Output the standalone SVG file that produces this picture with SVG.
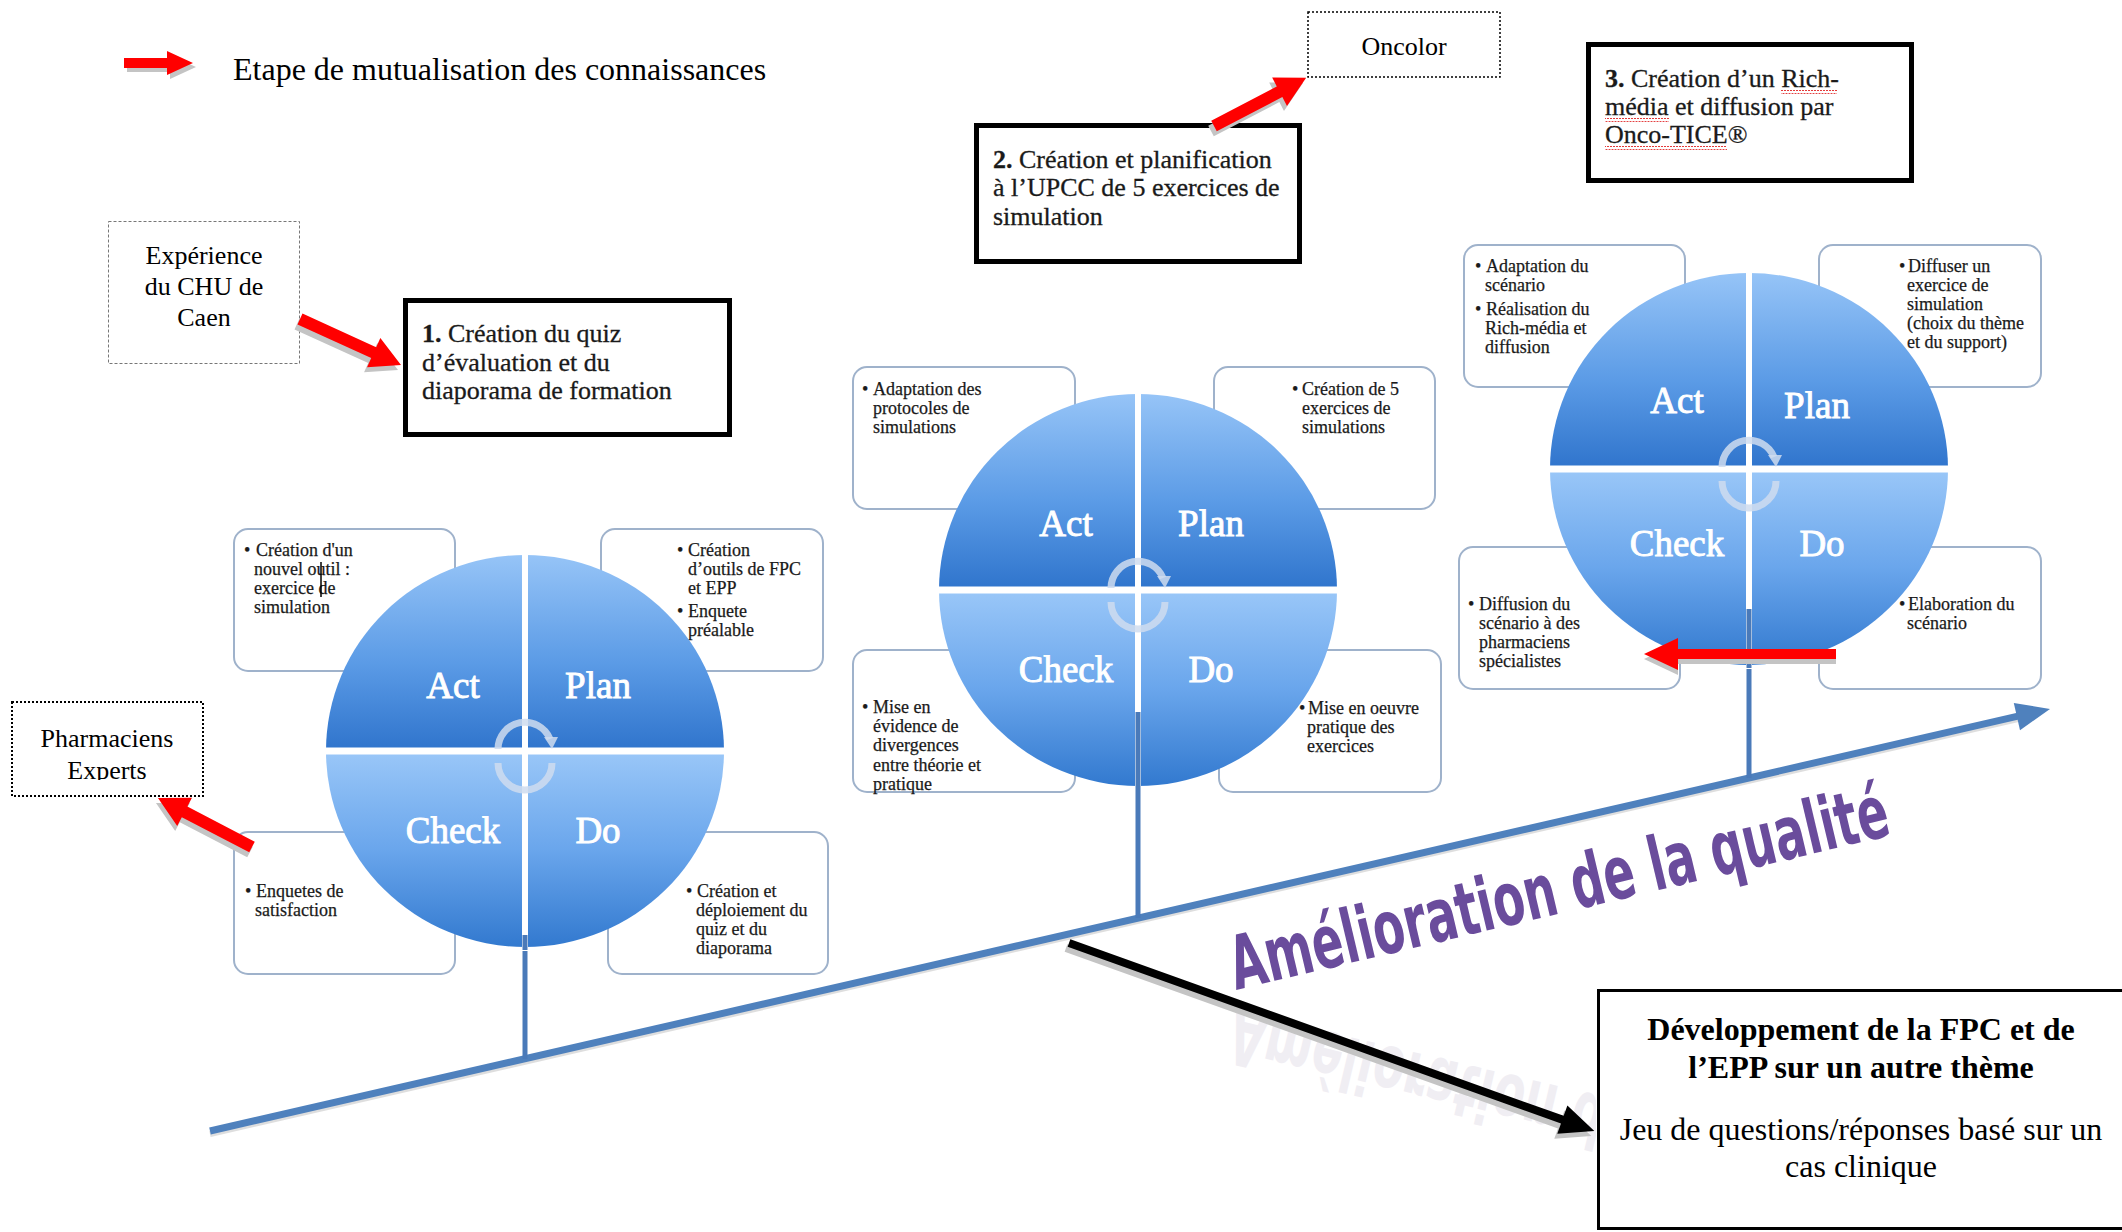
<svg xmlns="http://www.w3.org/2000/svg" xmlns:xlink="http://www.w3.org/1999/xlink" width="2122" height="1232" viewBox="0 0 2122 1232">
<style>
.box{fill:#fff;stroke:#9fb2cb;stroke-width:2}
.bt{font-family:"Liberation Serif","Times New Roman",serif;font-size:18px;fill:#1a1a1a;stroke:#1a1a1a;stroke-width:0.25}
.lab{font-family:"Liberation Serif","Times New Roman",serif;font-size:37px;fill:#fff;stroke:#fff;stroke-width:0.9;text-anchor:middle}
.big{font-family:"Liberation Serif","Times New Roman",serif;font-size:26px;fill:#1a1a1a;stroke:#1a1a1a;stroke-width:0.3}
.tnr{font-family:"Liberation Serif","Times New Roman",serif;fill:#000}
.thick{fill:#fff;stroke:#000;stroke-width:5}
.red{fill:#ff0000}
.sh{fill:#c4c4c4}
.stem{stroke:#4a7ab9;stroke-width:5}
.qual{font-family:"Liberation Sans Narrow","DejaVu Sans Condensed","Liberation Sans",sans-serif;font-weight:bold;font-size:74px}
</style>
<defs>
<linearGradient id="gTop" x1="0" y1="0" x2="0" y2="1">
<stop offset="0" stop-color="#96c4f7"/><stop offset="0.55" stop-color="#5b9be6"/><stop offset="1" stop-color="#2f74cc"/>
</linearGradient>
<linearGradient id="gBot" x1="0" y1="0" x2="0" y2="1">
<stop offset="0" stop-color="#9ac7f8"/><stop offset="0.5" stop-color="#6aa6ec"/><stop offset="1" stop-color="#3279cf"/>
</linearGradient>
<pattern id="squig" width="6" height="4" patternUnits="userSpaceOnUse">
<path d="M0,3 L1.5,1 L3,3 L4.5,1 L6,3" fill="none" stroke="#e02020" stroke-width="1"/>
</pattern>
<clipPath id="clipExp"><rect x="11" y="701" width="193" height="79"/></clipPath>
<clipPath id="clipRefl"><rect x="1100" y="995" width="496" height="237"/></clipPath>
<g id="disc">
<path d="M-199,0 A199,196 0 0 1 199,0 Z" fill="url(#gTop)"/>
<path d="M-199,0 A199,196 0 0 0 199,0 Z" fill="url(#gBot)"/>
<line x1="-205" y1="0" x2="205" y2="0" stroke="#fff" stroke-width="7"/>
<line x1="0" y1="-200" x2="0" y2="200" stroke="#fff" stroke-width="6"/>
<path d="M-27,-2 A27,27 0 0 1 25,-12" fill="none" stroke="#cfdcef" stroke-width="7" opacity="0.85"/>
<path d="M19,-14 L33,-14 L27,-2 Z" fill="#cfdcef" opacity="0.85"/>
<path d="M27,12 A27,27 0 0 1 -27,12" fill="none" stroke="#cfdcef" stroke-width="7" opacity="0.85"/>
</g>
</defs>

<rect width="2122" height="1232" fill="#fff"/>

<!-- legend -->
<g id="legend">
<path class="sh" transform="translate(127,67)" d="M0,-5 H43 V-12 L69,0 L43,12 V5 H0 Z"/>
<path class="red" transform="translate(124,63)" d="M0,-5 H43 V-12 L69,0 L43,12 V5 H0 Z"/>
<text class="tnr" x="233" y="80" font-size="32">Etape de mutualisation des connaissances</text>
</g>

<!-- quality axis & connectors -->
<g id="connectors">
<line x1="210" y1="1134" x2="2018" y2="719" stroke="#c9c9c9" stroke-width="6" opacity="0.6"/>
<line x1="210" y1="1131" x2="2018" y2="716.2" stroke="#4f81bd" stroke-width="7"/>
<path d="M2050,709 L2020,730.2 L2013.8,703 Z" fill="#4f81bd"/>
<line class="stem" x1="525" y1="935" x2="525" y2="1059"/>
<line class="stem" x1="1138" y1="712" x2="1138" y2="918"/>
<line class="stem" x1="1749" y1="609" x2="1749" y2="778"/>
</g>

<!-- quality label -->
<g id="quality-label">
<g clip-path="url(#clipRefl)">
<g transform="translate(0,2000) scale(1,-1)" opacity="0.16">
<text class="qual" fill="#a898b8" transform="translate(1236,990) rotate(-13.3)" textLength="675" lengthAdjust="spacingAndGlyphs">Amélioration de la qualité</text>
</g>
</g>
<text class="qual" fill="#6a4c9c" transform="translate(1236,990) rotate(-13.3)" textLength="675" lengthAdjust="spacingAndGlyphs">Amélioration de la qualité</text>
</g>

<g id="black-arrow">
<path class="sh" transform="translate(1066,948) rotate(19.7)" d="M0,-4 H524 V-15 L558,0 L524,15 V4 H0 Z"/>
<path fill="#000" transform="translate(1069,943) rotate(19.7)" d="M0,-4 H524 V-15 L558,0 L524,15 V4 H0 Z"/>
</g>

<!-- cycle 1 -->
<g id="cycle1">
<rect class="box" x="234" y="529" width="221" height="142" rx="14"/>
<rect class="box" x="601" y="529" width="222" height="142" rx="14"/>
<rect class="box" x="234" y="832" width="221" height="142" rx="14"/>
<rect class="box" x="608" y="832" width="220" height="142" rx="14"/>
<text class="bt"><tspan x="244" y="556">•</tspan><tspan x="256" y="556">Création d'un</tspan><tspan x="254" y="575">nouvel outil :</tspan><tspan x="254" y="594">exercice de</tspan><tspan x="254" y="613">simulation</tspan></text>
<line x1="321" y1="562" x2="321" y2="597" stroke="#000" stroke-width="1.5"/>
<text class="bt"><tspan x="677" y="556">•</tspan><tspan x="688" y="556">Création</tspan><tspan x="688" y="575">d’outils de FPC</tspan><tspan x="688" y="594">et EPP</tspan><tspan x="677" y="617">•</tspan><tspan x="688" y="617">Enquete</tspan><tspan x="688" y="636">préalable</tspan></text>
<text class="bt"><tspan x="245" y="897">•</tspan><tspan x="256" y="897">Enquetes de</tspan><tspan x="255" y="916">satisfaction</tspan></text>
<text class="bt"><tspan x="686" y="897">•</tspan><tspan x="697" y="897">Création et</tspan><tspan x="696" y="916">déploiement du</tspan><tspan x="696" y="935">quiz et du</tspan><tspan x="696" y="954">diaporama</tspan></text>
<use xlink:href="#disc" x="525" y="751"/>
<line class="stem" x1="525" y1="935" x2="525" y2="950"/>
<text class="lab" x="453" y="698">Act</text>
<text class="lab" x="598" y="698">Plan</text>
<text class="lab" x="453" y="843">Check</text>
<text class="lab" x="598" y="843">Do</text>
</g>

<!-- cycle 2 -->
<g id="cycle2">
<rect class="box" x="853" y="367" width="222" height="142" rx="14"/>
<rect class="box" x="1214" y="367" width="221" height="142" rx="14"/>
<rect class="box" x="853" y="650" width="222" height="142" rx="14"/>
<rect class="box" x="1219" y="650" width="222" height="142" rx="14"/>
<text class="bt"><tspan x="862" y="395">•</tspan><tspan x="873" y="395">Adaptation des</tspan><tspan x="873" y="414">protocoles de</tspan><tspan x="873" y="433">simulations</tspan></text>
<text class="bt"><tspan x="1292" y="395">•</tspan><tspan x="1302" y="395">Création de 5</tspan><tspan x="1302" y="414">exercices de</tspan><tspan x="1302" y="433">simulations</tspan></text>
<text class="bt"><tspan x="862" y="713">•</tspan><tspan x="873" y="713">Mise en</tspan><tspan x="873" y="732">évidence de</tspan><tspan x="873" y="751">divergences</tspan><tspan x="873" y="771">entre théorie et</tspan><tspan x="873" y="790">pratique</tspan></text>
<text class="bt"><tspan x="1299" y="714">•</tspan><tspan x="1308" y="714">Mise en oeuvre</tspan><tspan x="1307" y="733">pratique des</tspan><tspan x="1307" y="752">exercices</tspan></text>
<use xlink:href="#disc" x="1138" y="590"/>
<line class="stem" x1="1138" y1="712" x2="1138" y2="790"/>
<text class="lab" x="1066" y="536">Act</text>
<text class="lab" x="1211" y="536">Plan</text>
<text class="lab" x="1066" y="682">Check</text>
<text class="lab" x="1211" y="682">Do</text>
</g>

<!-- cycle 3 -->
<g id="cycle3">
<rect class="box" x="1464" y="245" width="221" height="142" rx="14"/>
<rect class="box" x="1819" y="245" width="222" height="142" rx="14"/>
<rect class="box" x="1459" y="547" width="221" height="142" rx="14"/>
<rect class="box" x="1819" y="547" width="222" height="142" rx="14"/>
<text class="bt"><tspan x="1475" y="272">•</tspan><tspan x="1486" y="272">Adaptation du</tspan><tspan x="1485" y="291">scénario</tspan><tspan x="1475" y="315">•</tspan><tspan x="1486" y="315">Réalisation du</tspan><tspan x="1485" y="334">Rich-média et</tspan><tspan x="1485" y="353">diffusion</tspan></text>
<text class="bt"><tspan x="1899" y="272">•</tspan><tspan x="1908" y="272">Diffuser un</tspan><tspan x="1907" y="291">exercice de</tspan><tspan x="1907" y="310">simulation</tspan><tspan x="1907" y="329">(choix du thème</tspan><tspan x="1907" y="348">et du support)</tspan></text>
<text class="bt"><tspan x="1468" y="610">•</tspan><tspan x="1479" y="610">Diffusion du</tspan><tspan x="1479" y="629">scénario à des</tspan><tspan x="1479" y="648">pharmaciens</tspan><tspan x="1479" y="667">spécialistes</tspan></text>
<text class="bt"><tspan x="1899" y="610">•</tspan><tspan x="1908" y="610">Elaboration du</tspan><tspan x="1907" y="629">scénario</tspan></text>
<use xlink:href="#disc" x="1749" y="469"/>
<line class="stem" x1="1749" y1="609" x2="1749" y2="668"/>
<text class="lab" x="1677" y="413">Act</text>
<text class="lab" x="1817" y="418">Plan</text>
<text class="lab" x="1677" y="556">Check</text>
<text class="lab" x="1822" y="556">Do</text>
</g>

<!-- step boxes -->
<g id="step1">
<rect class="thick" x="405.5" y="300.5" width="324" height="134"/>
<text class="big"><tspan x="422" y="342"><tspan font-weight="bold">1.</tspan> Création du quiz</tspan><tspan x="422" y="371">d’évaluation et du</tspan><tspan x="422" y="399">diaporama de formation</tspan></text>
</g>
<g id="step2">
<rect class="thick" x="976.5" y="125.5" width="323" height="136"/>
<text class="big"><tspan x="993" y="168"><tspan font-weight="bold">2.</tspan> Création et planification</tspan><tspan x="993" y="196">à l’UPCC de 5 exercices de</tspan><tspan x="993" y="225">simulation</tspan></text>
</g>
<g id="step3">
<rect class="thick" x="1588.5" y="44.5" width="323" height="136"/>
<text class="big"><tspan x="1605" y="87"><tspan font-weight="bold">3.</tspan> Création d’un Rich-</tspan><tspan x="1605" y="115">média et diffusion par</tspan><tspan x="1605" y="143">Onco-TICE®</tspan></text>
<rect x="1781" y="90" width="56" height="4" fill="url(#squig)"/>
<rect x="1605" y="118" width="64" height="4" fill="url(#squig)"/>
<rect x="1605" y="146" width="122" height="4" fill="url(#squig)"/>
</g>

<!-- source boxes -->
<g id="oncolor">
<rect x="1308" y="12" width="192" height="65" fill="#fff" stroke="#000" stroke-width="1.5" stroke-dasharray="2 2"/>
<text class="tnr" x="1404" y="55" font-size="26" text-anchor="middle">Oncolor</text>
</g>
<g id="chu-caen">
<rect x="108.5" y="221.5" width="191" height="142" fill="#fff" stroke="#777" stroke-width="1" stroke-dasharray="3 2"/>
<text class="tnr" font-size="26" text-anchor="middle"><tspan x="204" y="264">Expérience</tspan><tspan x="204" y="295">du CHU de</tspan><tspan x="204" y="326">Caen</tspan></text>
</g>
<g id="pharmaciens">
<rect x="12" y="702" width="191" height="94" fill="#fff" stroke="#000" stroke-width="2" stroke-dasharray="2 2"/>
<text class="tnr" font-size="26" text-anchor="middle" clip-path="url(#clipExp)"><tspan x="107" y="747">Pharmaciens</tspan><tspan x="107" y="779">Experts</tspan></text>
</g>

<!-- next theme box -->
<g id="next-theme">
<rect x="1598.5" y="990.5" width="560" height="238" fill="#fff" stroke="#000" stroke-width="3"/>
<text class="tnr" font-size="32" text-anchor="middle"><tspan x="1861" y="1040" font-weight="bold">Développement de la FPC et de</tspan><tspan x="1861" y="1078" font-weight="bold">l’EPP sur un autre thème</tspan><tspan x="1861" y="1140">Jeu de questions/réponses basé sur un</tspan><tspan x="1861" y="1177">cas clinique</tspan></text>
</g>

<!-- knowledge-sharing arrows -->
<g id="red-arrows">
<path class="sh" transform="translate(297,324) rotate(24.5)" d="M0,-6 H81 V-16 L111,0 L81,16 V6 H0 Z"/>
<path class="red" transform="translate(300,319) rotate(24.5)" d="M0,-6 H81 V-16 L111,0 L81,16 V6 H0 Z"/>
<path class="sh" transform="translate(1211,131) rotate(-27.6)" d="M0,-6 H74 V-16 L104,0 L74,16 V6 H0 Z"/>
<path class="red" transform="translate(1214,126) rotate(-27.6)" d="M0,-6 H74 V-16 L104,0 L74,16 V6 H0 Z"/>
<path class="sh" transform="translate(250,852) rotate(-152.5)" d="M0,-6 H76 V-16 L106,0 L76,16 V6 H0 Z"/>
<path class="red" transform="translate(252,847) rotate(-152.5)" d="M0,-6 H76 V-16 L106,0 L76,16 V6 H0 Z"/>
<path class="sh" transform="translate(1836,659) rotate(180)" d="M0,-5 H158 V-16 L192,0 L158,16 V5 H0 Z"/>
<path class="red" transform="translate(1836,654) rotate(180)" d="M0,-5 H158 V-16 L192,0 L158,16 V5 H0 Z"/>
</g>
</svg>
